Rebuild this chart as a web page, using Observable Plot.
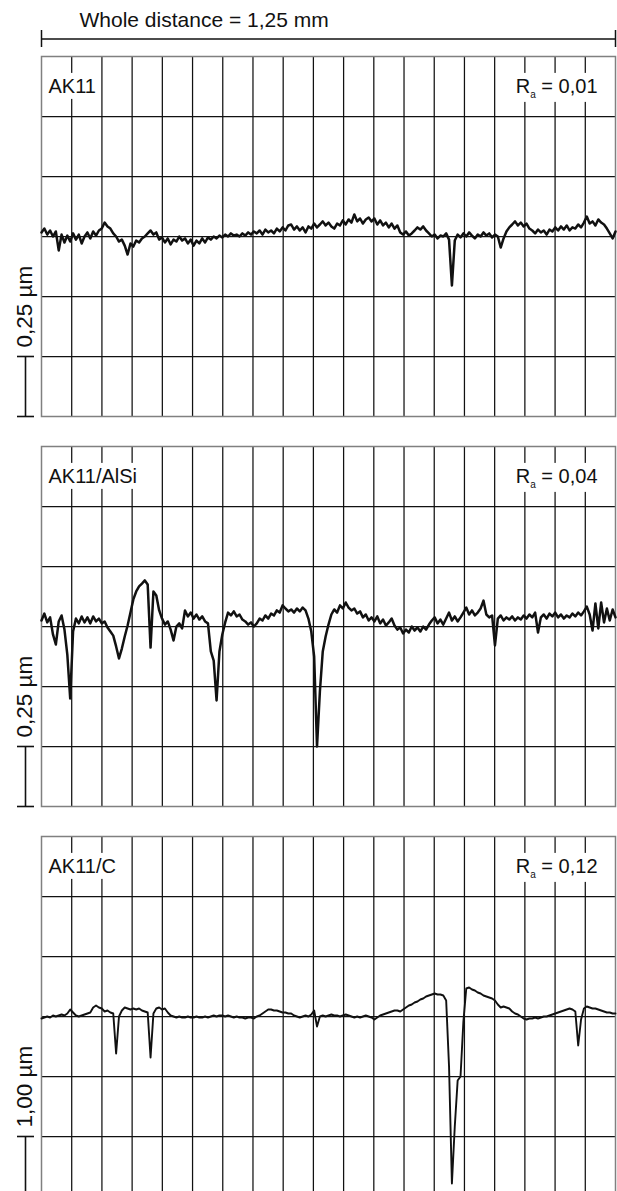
<!DOCTYPE html>
<html><head><meta charset="utf-8">
<script src="https://cdn.jsdelivr.net/npm/d3@7"></script>
<script src="https://cdn.jsdelivr.net/npm/@observablehq/plot@0.6"></script>
<style>
html,body{margin:0;padding:0;background:#fff;overflow:hidden;}
#root{position:relative;width:617px;height:1191px;overflow:hidden;}
#root svg{position:absolute;left:0;overflow:visible;}
</style></head><body><div id="root"></div>
<script>
// ---- data ----
const distanceLabel = "Whole distance = 1,25 mm";
const totalLength = 1250;            // µm, whole measured distance
const gridColumns = 19;              // vertical grid divisions
const sampleStep = 6.25;             // µm between profile samples
const samples = ["AK11", "AK11/AlSi", "AK11/C"];
const raValues = ["0,01", "0,04", "0,12"];
const rowSize = [250, 250, 1000];    // nm per grid row (scale bar)
const scaleLabels = ["0,25 µm", "0,25 µm", "1,00 µm"];

// profile heights in nm, one sample every 6.25 µm
const profileAK11 = [17,33,8,25,0,21,-58,8,-25,4,
 -21,13,-13,8,-29,0,17,-8,21,4,
 25,33,58,42,33,13,0,-21,-13,-38,
 -75,-29,-42,-17,-25,-8,0,13,25,8,
 17,-13,-4,-25,-8,-33,-13,-21,0,-17,
 -8,-29,-13,-38,-17,-29,-8,-25,-4,-13,
 0,-8,4,-4,8,0,13,4,8,0,
 13,4,17,8,21,13,25,8,29,17,
 25,13,33,21,38,25,46,50,29,42,
 25,38,17,42,33,54,38,50,63,46,
 58,42,33,54,46,67,50,71,58,92,
 63,75,54,71,79,63,75,50,67,46,
 58,38,54,33,46,17,8,21,4,13,
 25,38,29,42,25,13,0,8,-8,4,
 0,13,-13,-204,-17,8,-4,13,0,17,
 4,-8,8,0,17,4,13,-4,8,0,
 -46,-8,21,38,50,63,46,58,42,54,
 33,25,13,29,17,25,8,29,21,38,
 25,42,29,46,25,38,33,50,38,58,
 83,54,63,46,71,58,50,33,13,-8,21];

const profileAlSi = [25,54,17,38,-33,-75,21,46,-13,-117,
 -300,-21,33,13,42,17,38,13,42,21,
 33,13,21,-4,-21,-38,-83,-133,-92,-42,
 4,58,113,146,167,179,192,175,-88,146,
 129,67,33,8,21,-13,-58,0,13,-8,
 67,42,58,33,50,29,42,21,13,-104,
 -142,-308,-104,-33,17,58,46,63,42,50,
 29,21,8,17,0,13,33,25,46,33,
 54,46,67,58,88,75,63,71,58,75,
 63,79,67,33,-21,-125,-500,-271,-104,-42,
 8,50,71,58,88,75,100,79,67,75,
 54,63,38,50,25,38,21,42,13,29,
 4,17,33,4,-13,-4,-29,-13,-25,0,
 -17,-4,-21,0,-13,8,25,38,13,29,
 8,33,58,25,42,21,38,58,79,50,
 67,46,58,75,108,50,38,46,-79,33,
 46,25,38,29,42,25,38,29,46,33,
 50,38,58,-25,38,50,33,54,42,58,
 38,50,33,46,38,54,42,58,46,63,
 83,50,-17,96,-8,100,17,75,25,71,38];

const profileC = [-33,-17,0,-17,17,0,17,33,17,50,
 117,67,17,0,17,33,50,67,150,183,
 150,133,83,100,67,50,-617,0,100,150,
 133,117,133,117,133,100,83,67,-683,50,
 133,150,117,133,67,17,0,-17,0,-17,
 -17,0,-17,-17,0,-17,-17,0,-17,0,
 17,0,17,17,0,17,0,-17,0,-17,
 -17,-33,-17,-17,-33,0,17,50,83,117,
 117,100,100,83,67,67,50,50,17,0,
 -17,0,17,0,33,100,-167,0,17,0,
 17,33,17,17,0,17,33,17,0,-17,
 0,-17,0,17,0,-17,-50,-17,17,33,
 50,67,83,100,100,83,117,150,183,200,
 233,250,283,300,333,350,367,383,367,367,
 350,267,-833,-2783,-1833,-1067,-1000,-83,467,483,
 450,433,400,383,350,333,317,300,267,200,
 150,167,150,133,83,50,33,0,-33,-50,
 -33,-33,-17,-33,-17,0,0,17,33,50,
 67,83,100,117,133,117,83,-483,-50,133,
 167,150,133,133,117,100,83,67,67,50,50];

const profiles = [profileAK11, profileAlSi, profileC];

// ---- layout ----
const W = 617, ML = 41, MR = 2, PAD = 5, PANEL_H = 360;
const panelTops = [55.5, 446, 836];
const traceWidths = [2.5, 2.5, 1.9];
const font = "'Liberation Sans', Arial, Helvetica, sans-serif";
const ink = "#111";
const root = document.getElementById("root");
const NS = "http://www.w3.org/2000/svg";
const hTick = {draw(ctx) { ctx.moveTo(-8.5, 0); ctx.lineTo(8.5, 0); }};

// header: whole distance bracket
const header = Plot.plot({
  width: W, height: 55, marginLeft: ML, marginRight: MR, marginTop: 0, marginBottom: 0,
  x: {domain: [0, totalLength], axis: null},
  y: {type: "identity", axis: null},
  style: {fontFamily: font, background: "transparent", overflow: "visible"},
  marks: [
    Plot.ruleY([38.5], {x1: 0, x2: totalLength, stroke: ink, strokeWidth: 1.5}),
    Plot.ruleX([0, totalLength], {y1: 30, y2: 47, stroke: ink, strokeWidth: 1.5}),
    Plot.text([distanceLabel], {x: 0, y: 19.5, dx: 38, textAnchor: "start", lineAnchor: "middle", fontSize: 21, fill: ink})
  ]
});
header.style.top = "0px";
root.appendChild(header);

profiles.forEach((values, idx) => {
  const row = rowSize[idx];
  const data = values.map((z, i) => ({x: i * sampleStep, z}));
  const xGrid = d3.range(1, gridColumns).map(k => k * totalLength / gridColumns);
  const yGrid = d3.range(-2, 3).map(k => k * row);
  const svg = Plot.plot({
    width: W, height: PANEL_H + 2 * PAD,
    marginLeft: ML, marginRight: MR, marginTop: PAD, marginBottom: PAD,
    x: {domain: [0, totalLength], axis: null},
    y: {domain: [-3 * row, 3 * row], axis: null},
    style: {fontFamily: font, background: "transparent", overflow: "visible"},
    marks: [
      Plot.ruleX(xGrid, {stroke: ink, strokeWidth: 1.25}),
      Plot.ruleY(yGrid, {stroke: ink, strokeWidth: 1.25}),
      Plot.frame({stroke: "#808080", strokeWidth: 1.5}),
      Plot.line(data, {x: "x", y: "z", stroke: ink, strokeWidth: traceWidths[idx], strokeLinejoin: "round"}),
      // scale bar in the left margin
      Plot.ruleX([0], {y1: -3 * row, y2: -2 * row, dx: -16, stroke: ink, strokeWidth: 1.6}),
      Plot.dot([-3 * row, -2 * row], {x: () => 0, y: d => d, dx: -16, symbol: hTick, stroke: ink, strokeWidth: 1.6, fill: "none"}),
      Plot.text([scaleLabels[idx]], {x: 0, y: -2 * row, dx: -17, dy: -9, rotate: -90, textAnchor: "start", lineAnchor: "middle", fontSize: 22.5, fill: ink}),
      // labels
      Plot.text([samples[idx]], {x: 0, y: 2.5 * row, dx: 7, textAnchor: "start", lineAnchor: "middle", fontSize: 20, fill: ink}),
      Plot.text([raValues[idx]], {x: totalLength, y: 2.5 * row, dx: -18, textAnchor: "end", lineAnchor: "middle", fontSize: 20, fill: ink})
    ]
  });
  svg.style.top = (panelTops[idx] - PAD) + "px";
  root.appendChild(svg);
  const allTexts = Array.from(svg.querySelectorAll("text"));
  const raTexts = allTexts.filter(t => t.textContent === raValues[idx]);
  const sampleTexts = allTexts.filter(t => t.textContent === samples[idx]);
  // R_a with subscript
  raTexts.forEach(t => {
    const v = t.textContent;
    while (t.firstChild) t.removeChild(t.firstChild);
    t.appendChild(document.createTextNode("R"));
    const sub = document.createElementNS(NS, "tspan");
    sub.setAttribute("font-size", "10");
    sub.setAttribute("dy", "5");
    sub.textContent = "a";
    const rest = document.createElementNS(NS, "tspan");
    rest.setAttribute("dy", "-5");
    rest.textContent = "\u00a0= " + v;
    t.appendChild(sub); t.appendChild(rest);
  });
  // white boxes behind labels
  raTexts.concat(sampleTexts).forEach(t => {
    const b = t.getBBox();
    const r = document.createElementNS(NS, "rect");
    r.setAttribute("x", b.x - 3); r.setAttribute("y", b.y - 2);
    r.setAttribute("width", b.width + 6); r.setAttribute("height", b.height + 4);
    r.setAttribute("fill", "#fff"); r.setAttribute("stroke", "none");
    if (t.getAttribute("transform")) r.setAttribute("transform", t.getAttribute("transform"));
    t.parentNode.insertBefore(r, t);
  });
});
</script></body></html>
